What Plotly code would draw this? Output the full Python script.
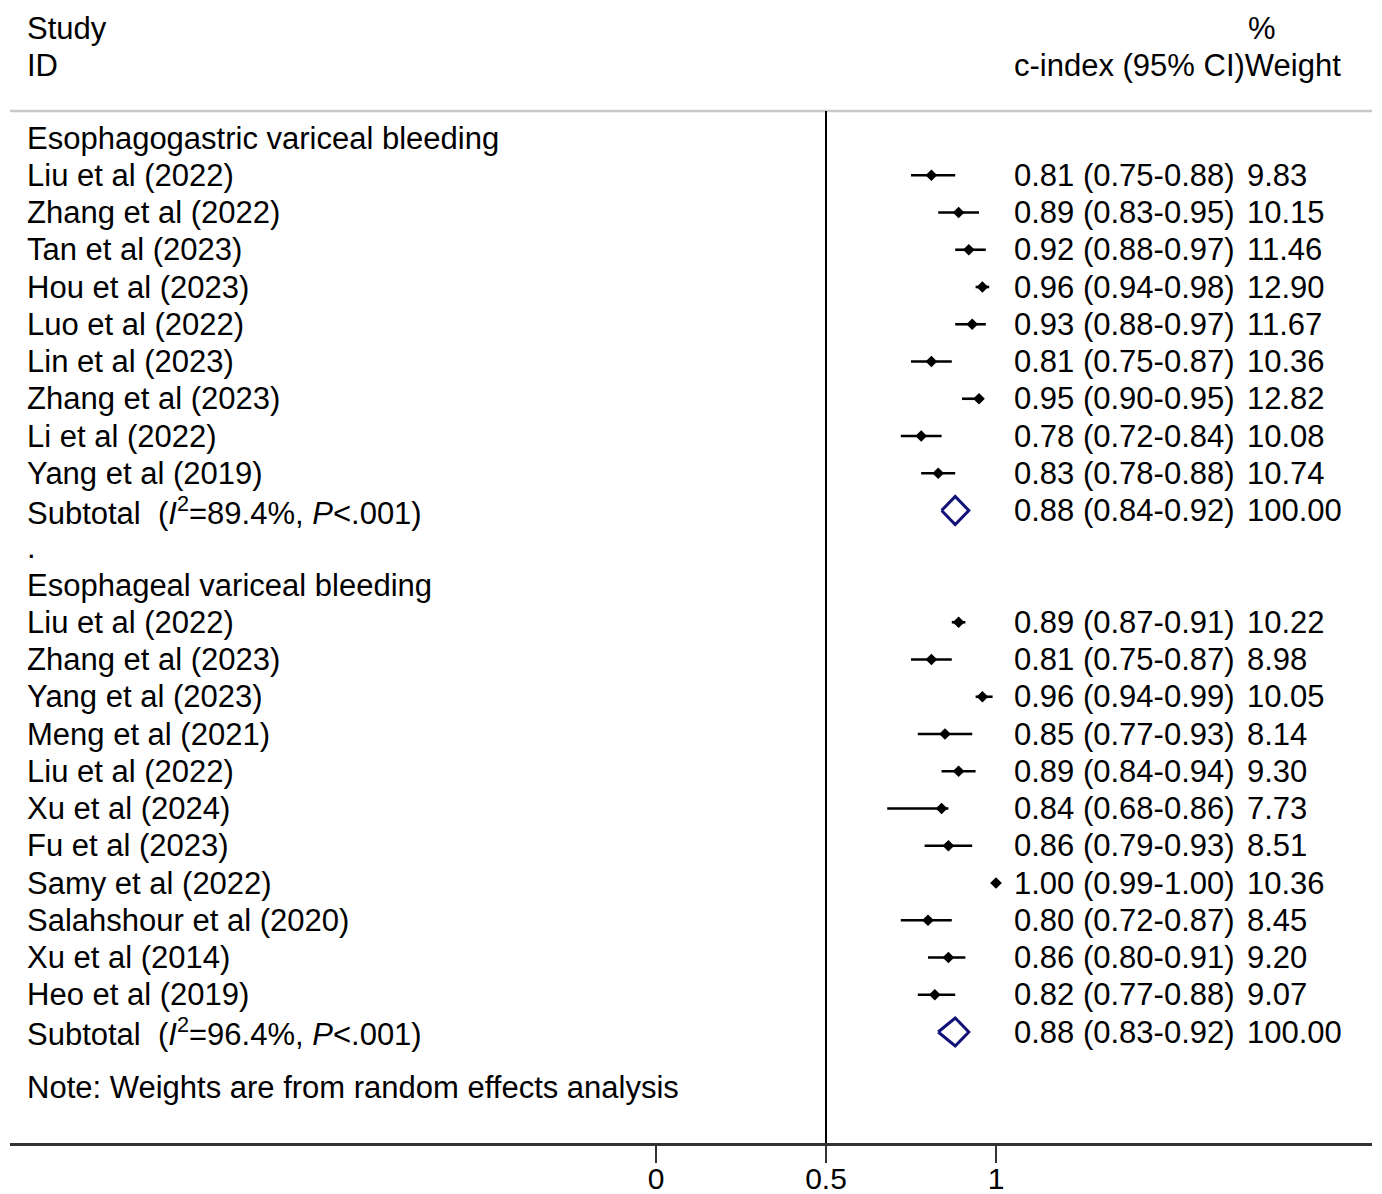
import plotly.graph_objects as go

# ---------------- data ----------------
g1_title = "Esophagogastric variceal bleeding"
g1_studies = ["Liu et al (2022)", "Zhang et al (2022)", "Tan et al (2023)", "Hou et al (2023)",
              "Luo et al (2022)", "Lin et al (2023)", "Zhang et al (2023)", "Li et al (2022)",
              "Yang et al (2019)"]
g1_est = [0.81, 0.89, 0.92, 0.96, 0.93, 0.81, 0.95, 0.78, 0.83]
g1_lci = [0.75, 0.83, 0.88, 0.94, 0.88, 0.75, 0.90, 0.72, 0.78]
g1_uci = [0.88, 0.95, 0.97, 0.98, 0.97, 0.87, 0.95, 0.84, 0.88]
g1_w = ["9.83", "10.15", "11.46", "12.90", "11.67", "10.36", "12.82", "10.08", "10.74"]
g1_sub = (0.88, 0.84, 0.92)
g1_sub_label = "Subtotal\u00a0 (<i>I</i><sup>2</sup>=89.4%, <i>P</i>&lt;.001)"

g2_title = "Esophageal variceal bleeding"
g2_studies = ["Liu et al (2022)", "Zhang et al (2023)", "Yang et al (2023)", "Meng et al (2021)",
              "Liu et al (2022)", "Xu et al (2024)", "Fu et al (2023)", "Samy et al (2022)",
              "Salahshour et al (2020)", "Xu et al (2014)", "Heo et al (2019)"]
g2_est = [0.89, 0.81, 0.96, 0.85, 0.89, 0.84, 0.86, 1.00, 0.80, 0.86, 0.82]
g2_lci = [0.87, 0.75, 0.94, 0.77, 0.84, 0.68, 0.79, 0.99, 0.72, 0.80, 0.77]
g2_uci = [0.91, 0.87, 0.99, 0.93, 0.94, 0.86, 0.93, 1.00, 0.87, 0.91, 0.88]
g2_w = ["10.22", "8.98", "10.05", "8.14", "9.30", "7.73", "8.51", "10.36", "8.45", "9.20", "9.07"]
g2_sub = (0.88, 0.83, 0.92)
g2_sub_label = "Subtotal\u00a0 (<i>I</i><sup>2</sup>=96.4%, <i>P</i>&lt;.001)"

note_text = "Note: Weights are from random effects analysis"
tick_vals = [0, 0.5, 1]
tick_text = ["0", "0.5", "1"]

# ---------------- layout constants ----------------
FONT = "Liberation Sans, Arial, Helvetica, sans-serif"
FS = 31
W, H = 1382, 1194
ML, MR, MB = 10, 10, 51
PX0, PX_PER_UNIT = 656, 340          # pixel of x=0, pixels per unit
ROW0_PX, ROW_PX = 138, 37.25         # pixel of row 0, pixels per row
PLOT_BOTTOM = H - MB


def dx(px):
    return (px - PX0) / PX_PER_UNIT


def drow(py):
    return (py - ROW0_PX) / ROW_PX


fmt = lambda e, l, u: f"{e:.2f} ({l:.2f}-{u:.2f})"

# row assignment
g1_rows = list(range(1, 1 + len(g1_studies)))
g1_sub_row = g1_rows[-1] + 1
dot_row = g1_sub_row + 1
g2_head_row = dot_row + 1
g2_rows = list(range(g2_head_row + 1, g2_head_row + 1 + len(g2_studies)))
g2_sub_row = g2_rows[-1] + 1
note_row = g2_sub_row + 1.5

fig = go.Figure()

all_est = g1_est + g2_est
all_lci = g1_lci + g2_lci
all_uci = g1_uci + g2_uci
all_rows = g1_rows + g2_rows

ci_x, ci_y = [], []
for l, u, r in zip(all_lci, all_uci, all_rows):
    ci_x += [l, u, None]
    ci_y += [r, r, None]
fig.add_trace(go.Scatter(x=ci_x, y=ci_y, mode="lines",
                         line=dict(color="black", width=2.6), hoverinfo="skip"))
fig.add_trace(go.Scatter(x=all_est, y=all_rows, mode="markers",
                         marker=dict(symbol="diamond", size=9, color="black")))

h = 14 / ROW_PX
for (e, l, u), r in [(g1_sub, g1_sub_row), (g2_sub, g2_sub_row)]:
    fig.add_trace(go.Scatter(x=[l, e, u, e, l], y=[r, r - h, r, r + h, r], mode="lines",
                             line=dict(color="#11117a", width=3), hoverinfo="skip"))

ann = []


def txt(x, y, s, anchor="left"):
    ann.append(dict(x=x, y=y, xref="x", yref="y", text=s, showarrow=False,
                    xanchor=anchor, yanchor="middle",
                    font=dict(family=FONT, size=FS, color="black")))


LX = dx(25)
CX = dx(1012)
WX = dx(1245)

txt(LX, drow(28), "Study")
txt(LX, drow(65), "ID")
txt(dx(1262), drow(28), "%", "center")
txt(CX, drow(65), "c-index (95% CI)Weight")

txt(LX, 0, g1_title)
for s, e, l, u, w, r in zip(g1_studies, g1_est, g1_lci, g1_uci, g1_w, g1_rows):
    txt(LX, r, s)
    txt(CX, r, fmt(e, l, u))
    txt(WX, r, w)
txt(LX, g1_sub_row, g1_sub_label)
txt(CX, g1_sub_row, fmt(*g1_sub))
txt(WX, g1_sub_row, "100.00")
txt(LX, dot_row, ".")

txt(LX, g2_head_row, g2_title)
for s, e, l, u, w, r in zip(g2_studies, g2_est, g2_lci, g2_uci, g2_w, g2_rows):
    txt(LX, r, s)
    txt(CX, r, fmt(e, l, u))
    txt(WX, r, w)
txt(LX, g2_sub_row, g2_sub_label)
txt(CX, g2_sub_row, fmt(*g2_sub))
txt(WX, g2_sub_row, "100.00")
txt(LX, note_row, note_text)

y_top = drow(0)
y_bot = drow(PLOT_BOTTOM)
sep_row = drow(111)

shapes = [
    dict(type="line", xref="paper", yref="y", x0=0, x1=1, y0=sep_row, y1=sep_row,
         line=dict(color="#c8c8c8", width=2.5)),
    dict(type="line", xref="x", yref="y", x0=0.5, x1=0.5, y0=sep_row, y1=y_bot,
         line=dict(color="black", width=2)),
]

fig.update_layout(
    width=W, height=H,
    margin=dict(l=ML, r=MR, t=0, b=MB, pad=0, autoexpand=False),
    paper_bgcolor="white", plot_bgcolor="white",
    showlegend=False,
    annotations=ann, shapes=shapes,
    xaxis=dict(range=[dx(ML), dx(W - MR)], showgrid=False, zeroline=False, automargin=False,
               showline=True, linecolor="#333333", linewidth=2.5,
               ticks="outside", ticklen=17, tickwidth=2, tickcolor="#333333",
               tickvals=tick_vals, ticktext=tick_text, ticklabelstandoff=-10,
               tickfont=dict(family=FONT, size=30, color="black"), fixedrange=True),
    yaxis=dict(range=[y_bot, y_top], showgrid=False, zeroline=False, showline=False,
               automargin=False, showticklabels=False, ticks="", fixedrange=True),
)

fig.write_html("out.html")
